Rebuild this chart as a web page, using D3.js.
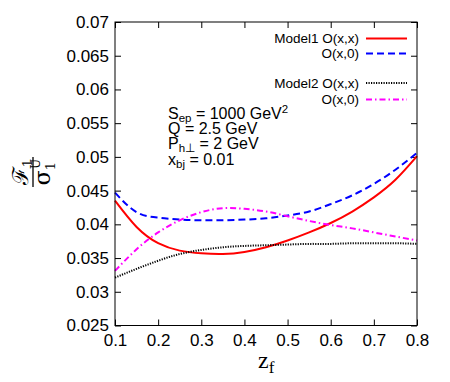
<!DOCTYPE html>
<html lang="en">
<head>
<meta charset="UTF-8">
<title>F1 / sigma1 vs z_f</title>
<script src="https://d3js.org/d3.v7.min.js"></script>
<style>
  body { margin: 0; background: #fff; }
  .tick text { font: 17px "Liberation Sans", Arial, sans-serif; fill: #000; }
  .curve { fill: none; stroke-width: 2px; }
  .leg { font: 13.5px "Liberation Sans", Arial, sans-serif; }
  .note { font: 16px "Liberation Sans", Arial, sans-serif; }
</style>
</head>
<body>
<div id="chart"></div>
<script>
// z_f sample points and curve values
const zf = [0.10, 0.15, 0.20, 0.25, 0.30, 0.35, 0.40, 0.45, 0.50, 0.55, 0.60, 0.65, 0.70, 0.75, 0.80];
const model1Oxx = [0.0435, 0.0396, 0.0372, 0.0361, 0.0357, 0.0356, 0.0359, 0.0366, 0.0376, 0.0388, 0.0402, 0.0419, 0.0440, 0.0466, 0.0501];
const model1Ox0 = [0.0447, 0.0418, 0.0410, 0.0407, 0.0406, 0.0406, 0.0407, 0.0409, 0.0413, 0.0419, 0.0430, 0.0443, 0.0460, 0.0481, 0.0506];
const model2Oxx = [0.0321, 0.0334, 0.0346, 0.0356, 0.0362, 0.0366, 0.0368, 0.0369, 0.0370, 0.0371, 0.0371, 0.0372, 0.0372, 0.0372, 0.0371];
const model2Ox0 = [0.0331, 0.0363, 0.0388, 0.0406, 0.0418, 0.0424, 0.0423, 0.0419, 0.0412, 0.0405, 0.0399, 0.0394, 0.0388, 0.0382, 0.0376];

const xTicks = [0.1, 0.2, 0.3, 0.4, 0.5, 0.6, 0.7, 0.8];
const xTickLabels = ["0.1", "0.2", "0.3", "0.4", "0.5", "0.6", "0.7", "0.8"];
const yTicks = [0.025, 0.03, 0.035, 0.04, 0.045, 0.05, 0.055, 0.06, 0.065, 0.07];
const yTickLabels = ["0.025", "0.03", "0.035", "0.04", "0.045", "0.05", "0.055", "0.06", "0.065", "0.07"];

const series = [
  { name: "Model1 O(x,x)", values: model1Oxx, color: "#ff0000", dash: null },
  { name: "O(x,0)", values: model1Ox0, color: "#0000ff", dash: "7,4" },
  { name: "Model2 O(x,x)", values: model2Oxx, color: "#000000", dash: "1.2,1.3" },
  { name: "O(x,0)", values: model2Ox0, color: "#ff00ff", dash: "6,3,1.5,3" }
];

const W = 450, H = 382;
const margin = { top: 22, right: 33, bottom: 56.5, left: 115 };
const width = W - margin.left - margin.right;
const height = H - margin.top - margin.bottom;

const svg = d3.select("#chart").append("svg")
  .attr("width", W).attr("height", H);
const g = svg.append("g").attr("transform", `translate(${margin.left},${margin.top})`);

const x = d3.scaleLinear().domain([0.1, 0.8]).range([0, width]);
const y = d3.scaleLinear().domain([0.025, 0.07]).range([height, 0]);

// axes, ticks pointing inward on all four sides
g.append("g").attr("transform", `translate(0,${height})`)
  .call(d3.axisBottom(x).tickValues(xTicks).tickSize(-6).tickPadding(8)
    .tickFormat((d, i) => xTickLabels[i]));
g.append("g").call(d3.axisTop(x).tickValues(xTicks).tickSize(-6).tickFormat(""));
g.append("g")
  .call(d3.axisLeft(y).tickValues(yTicks).tickSize(-6).tickPadding(6)
    .tickFormat((d, i) => yTickLabels[i]));
g.append("g").attr("transform", `translate(${width},0)`)
  .call(d3.axisRight(y).tickValues(yTicks).tickSize(-6).tickFormat(""));
g.selectAll(".domain").remove();
g.selectAll(".tick line").attr("stroke", "#000");

const line = d3.line()
  .x((d, i) => x(zf[i]))
  .y(d => y(d))
  .curve(d3.curveNatural);

g.selectAll(".curve").data(series).join("path")
  .attr("class", "curve")
  .attr("d", d => line(d.values))
  .attr("stroke", d => d.color)
  .attr("stroke-dasharray", d => d.dash);

g.append("rect").attr("width", width).attr("height", height)
  .attr("fill", "none").attr("stroke", "#000").attr("stroke-width", 1);

// legend
const legY = [38.5, 53.5, 83, 99.5];
const leg = svg.append("g");
series.forEach((s, i) => {
  leg.append("text").attr("class", "leg")
    .attr("x", 359).attr("y", legY[i]).attr("dy", "0.35em")
    .attr("text-anchor", "end").text(s.name);
  leg.append("line")
    .attr("x1", 366).attr("x2", 407).attr("y1", legY[i]).attr("y2", legY[i])
    .attr("stroke", s.color).attr("stroke-width", 2)
    .attr("stroke-dasharray", s.dash);
});

// kinematics note
const note = svg.append("g").attr("class", "note");
function noteLine(yy, parts) {
  const t = note.append("text").attr("x", 168).attr("y", yy);
  parts.forEach(p => {
    const ts = t.append("tspan").text(p[0]);
    if (p[1] === "sub") ts.attr("font-size", "11.5px").attr("dy", 3);
    if (p[1] === "sup") ts.attr("font-size", "11.5px").attr("dy", -6);
    if (p[1] === "back") ts.attr("dy", p[2]);
  });
}
noteLine(118.5, [["S"], ["ep", "sub"], [" = 1000 GeV", "back", -3], ["2", "sup"]]);
noteLine(133.5, [["Q = 2.5 GeV"]]);
noteLine(149, [["P"], ["h\u22a5", "sub"], [" = 2 GeV", "back", -3]]);
noteLine(165, [["x"], ["bj", "sub"], [" = 0.01", "back", -3]]);

// x label
const xl = svg.append("text").attr("x", 258).attr("y", 368)
  .attr("font-family", "Liberation Serif, serif").attr("font-size", 24);
xl.append("tspan").text("z");
xl.append("tspan").text("f").attr("font-size", 17).attr("dy", 5);

// y label: rotated fraction F1 / sigma1^U
const yl = svg.append("g").attr("transform", "translate(33,172) rotate(-90)")
  .attr("font-family", "DejaVu Serif, serif");
yl.append("line").attr("x1", -15).attr("x2", 15).attr("y1", 0).attr("y2", 0)
  .attr("stroke", "#000").attr("stroke-width", 1.3);
const num = yl.append("text").attr("x", 0).attr("y", -5).attr("text-anchor", "middle")
  .attr("font-size", 22);
num.append("tspan").text("\u2131");
num.append("tspan").text("1").attr("font-size", 13).attr("dy", 4);
const den = yl.append("text").attr("x", 0).attr("y", 17).attr("text-anchor", "middle")
  .attr("font-size", 22);
den.append("tspan").text("\u03c3");
den.append("tspan").text("1").attr("font-size", 13).attr("dy", 5);
den.append("tspan").text("U").attr("font-size", 12).attr("dx", -7).attr("dy", -15);
</script>
</body>
</html>
